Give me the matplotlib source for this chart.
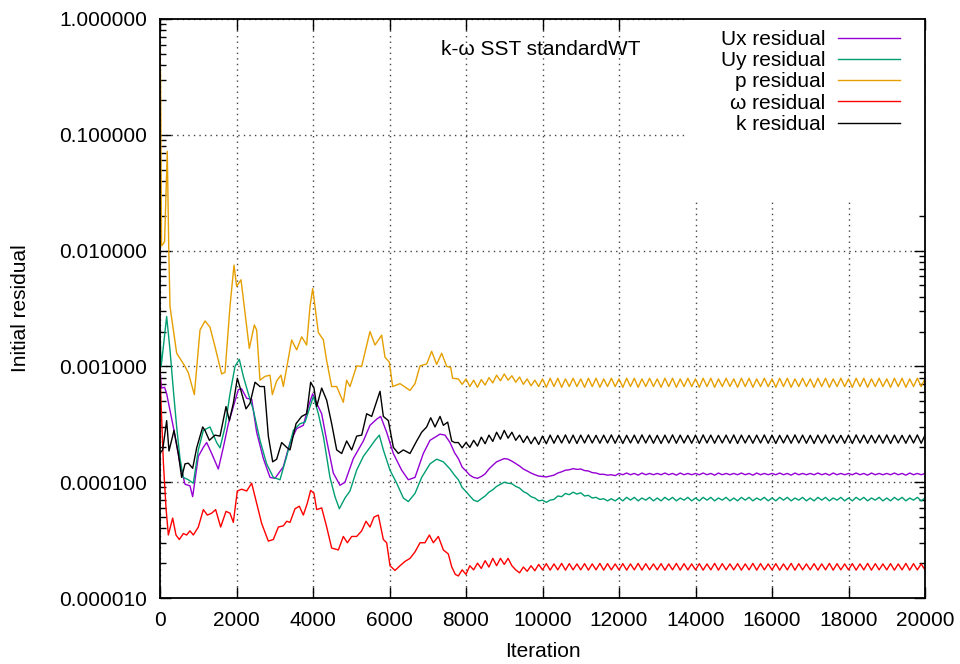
import numpy as np
import matplotlib
matplotlib.use('Agg')
import matplotlib.pyplot as plt
from matplotlib.patches import Rectangle
from matplotlib.ticker import LogLocator, FormatStrFormatter, NullFormatter

plt.rcParams['font.family'] = ['Liberation Sans', 'DejaVu Sans']

# ---- data: early part (irregular knots) ----
ux_it = [0, 20, 44, 120, 174, 348, 523, 654, 784, 854, 1002, 1133, 1220, 1351, 1525, 1656,
         1787, 1917, 2048, 2135, 2266, 2397, 2527, 2702, 2876, 3007, 3224, 3399, 3573, 3747,
         3878, 3992, 4096, 4227, 4357, 4531, 4706, 4836, 5054, 5316, 5490, 5664, 5769, 5926,
         6100, 6318, 6492, 6667, 6884, 7059, 7320, 7451, 7582, 7700]
ux_val = [1.0e-3, 7.5e-4, 6.5e-4, 6.6e-4, 5.8e-4, 3.0e-4, 1.44e-4, 9.6e-5, 9.3e-5, 7.5e-5,
          1.67e-4, 2.0e-4, 2.2e-4, 1.77e-4, 1.3e-4, 2.0e-4, 3.2e-4, 4.5e-4, 6.3e-4, 6.4e-4,
          5.3e-4, 5.2e-4, 2.7e-4, 1.6e-4, 1.1e-4, 1.08e-4, 1.36e-4, 2.2e-4, 2.9e-4, 3.1e-4,
          4.5e-4, 5.8e-4, 4.8e-4, 3.9e-4, 2.3e-4, 1.2e-4, 9.4e-5, 1.0e-4, 1.6e-4, 2.27e-4,
          3.1e-4, 3.5e-4, 3.7e-4, 2.7e-4, 1.77e-4, 1.27e-4, 1.05e-4, 1.1e-4, 1.77e-4, 2.3e-4,
          2.6e-4, 2.55e-4, 2.2e-4, 1.8e-4]

uy_it = [0, 30, 80, 174, 261, 348, 436, 523, 610, 741, 871, 1002, 1133, 1307, 1481, 1569,
         1700, 1830, 1961, 2074, 2179, 2310, 2440, 2614, 2788, 2963, 3137, 3311, 3486, 3660,
         3791, 3922, 4009, 4140, 4270, 4444, 4575, 4688, 4836, 4967, 5141, 5316, 5490, 5621,
         5734, 5839, 6013, 6188, 6362, 6492, 6667, 6841, 7059, 7233, 7407, 7582, 7700]
uy_val = [2.0e-3, 1.0e-3, 1.4e-3, 2.7e-3, 1.39e-3, 6.3e-4, 3.0e-4, 1.6e-4, 1.1e-4, 1.05e-4,
          9.8e-5, 1.9e-4, 2.8e-4, 3.0e-4, 2.2e-4, 1.98e-4, 3.0e-4, 5.8e-4, 1.0e-3, 1.15e-3,
          8.2e-4, 5.8e-4, 4.2e-4, 2.3e-4, 1.44e-4, 1.1e-4, 1.05e-4, 1.67e-4, 2.8e-4, 3.2e-4,
          3.3e-4, 4.5e-4, 5.5e-4, 3.9e-4, 2.5e-4, 1.1e-4, 7.5e-5, 5.9e-5, 7.3e-5, 8.4e-5,
          1.27e-4, 1.67e-4, 2.0e-4, 2.3e-4, 2.55e-4, 1.9e-4, 1.27e-4, 9.8e-5, 7.3e-5, 6.8e-5,
          8.0e-5, 1.1e-4, 1.44e-4, 1.58e-4, 1.5e-4, 1.3e-4, 1.15e-4]

p_it = [0, 15, 40, 90, 120, 190, 230, 261, 436, 654, 741, 898, 1046, 1176, 1307, 1438, 1612,
        1700, 1830, 1935, 2004, 2118, 2222, 2335, 2466, 2527, 2614, 2745, 2876, 2937, 3050,
        3163, 3224, 3442, 3573, 3704, 3834, 3922, 3992, 4140, 4270, 4357, 4488, 4619, 4793,
        4880, 4967, 5141, 5272, 5490, 5621, 5795, 5882, 5995, 6083, 6275, 6536, 6667, 6797,
        6972, 7102, 7233, 7364, 7495, 7600, 7650]
p_val = [0.6, 0.3, 0.011, 0.0115, 0.012, 0.072, 0.01, 0.0033, 0.0013, 0.001, 0.00088,
         0.00057, 0.00206, 0.00247, 0.00218, 0.00148, 0.00086, 0.00089, 0.0033, 0.0075, 0.0049,
         0.0056, 0.0029, 0.00143, 0.00228, 0.00206, 0.00076, 0.00082, 0.00084, 0.00057,
         0.00075, 0.00084, 0.00067, 0.00169, 0.00139, 0.0018, 0.00153, 0.0033, 0.0047,
         0.00196, 0.0017, 0.00112, 0.00067, 0.00067, 0.00049, 0.00076, 0.00067, 0.00101,
         0.001, 0.002, 0.00153, 0.00186, 0.0012, 0.00109, 0.00067, 0.00071, 0.00062, 0.00071,
         0.00101, 0.00105, 0.00135, 0.00104, 0.0013, 0.001, 0.00098, 0.00079]

w_it = [0, 26, 87, 157, 218, 331, 418, 505, 610, 697, 784, 871, 1002, 1133, 1238, 1351,
        1455, 1586, 1726, 1830, 1917, 2022, 2135, 2266, 2397, 2527, 2658, 2832, 2963, 3094,
        3225, 3312, 3399, 3530, 3643, 3747, 3852, 3939, 4026, 4096, 4227, 4358, 4488, 4663,
        4793, 4898, 5011, 5142, 5273, 5386, 5490, 5595, 5708, 5839, 5926, 6013, 6144, 6275,
        6406, 6536, 6667, 6798, 6928, 7042, 7146, 7277, 7408, 7538, 7626, 7720]
w_val = [1.0e-3, 5.0e-4, 1.5e-4, 6.0e-5, 3.5e-5, 4.9e-5, 3.5e-5, 3.2e-5, 3.6e-5, 3.5e-5,
         3.8e-5, 3.5e-5, 4.1e-5, 5.8e-5, 5.2e-5, 5.4e-5, 5.8e-5, 4.1e-5, 5.6e-5, 5.4e-5,
         4.5e-5, 8.4e-5, 8.7e-5, 8.4e-5, 9.8e-5, 6.6e-5, 4.4e-5, 3.1e-5, 3.2e-5, 4.1e-5,
         4.2e-5, 4.6e-5, 4.5e-5, 5.9e-5, 6.2e-5, 5.2e-5, 6.6e-5, 8.5e-5, 8.0e-5, 5.8e-5,
         6.0e-5, 4.1e-5, 2.7e-5, 2.6e-5, 3.4e-5, 3.0e-5, 3.4e-5, 3.4e-5, 3.8e-5, 4.6e-5,
         4.1e-5, 5.0e-5, 5.2e-5, 3.2e-5, 3.0e-5, 1.9e-5, 1.73e-5, 1.9e-5, 2.07e-5, 2.2e-5,
         2.5e-5, 3.0e-5, 3.0e-5, 3.5e-5, 3.0e-5, 3.4e-5, 2.6e-5, 2.4e-5, 1.86e-5, 1.6e-5]

k_it = [10, 70, 174, 235, 366, 479, 566, 654, 741, 854, 959, 1116, 1177, 1290, 1438, 1569,
        1726, 1813, 1917, 2022, 2109, 2248, 2353, 2484, 2614, 2728, 2832, 2946, 3050, 3181,
        3312, 3399, 3556, 3704, 3835, 3939, 4026, 4096, 4227, 4358, 4488, 4619, 4750, 4880,
        5011, 5142, 5273, 5403, 5534, 5647, 5752, 5839, 5970, 6101, 6231, 6362, 6536, 6711,
        6841, 6972, 7077, 7190, 7321, 7408, 7521, 7626, 7700]
k_val = [1.8e-4, 1.9e-4, 3.4e-4, 1.86e-4, 2.8e-4, 1.77e-4, 1.1e-4, 1.44e-4, 1.46e-4, 1.32e-4,
         1.98e-4, 3.0e-4, 2.8e-4, 2.3e-4, 2.55e-4, 2.5e-4, 4.5e-4, 3.4e-4, 4.8e-4, 7.9e-4,
         6.3e-4, 4.3e-4, 4.8e-4, 7.3e-4, 6.7e-4, 6.7e-4, 2.5e-4, 1.5e-4, 1.58e-4, 2.2e-4,
         2.0e-4, 1.9e-4, 3.2e-4, 3.7e-4, 3.9e-4, 7.3e-4, 6.5e-4, 4.5e-4, 6.5e-4, 5.1e-4,
         3.2e-4, 1.9e-4, 1.77e-4, 2.27e-4, 1.9e-4, 2.5e-4, 2.55e-4, 3.9e-4, 3.7e-4, 4.8e-4,
         6.1e-4, 3.7e-4, 3.4e-4, 2.0e-4, 1.77e-4, 1.9e-4, 1.77e-4, 2.27e-4, 2.7e-4, 3.0e-4,
         3.6e-4, 3.0e-4, 3.7e-4, 3.1e-4, 3.3e-4, 2.27e-4, 2.2e-4]

# ---- periodic tail, one value every 100 iterations from 7800 on ----
tail_start = 7800
tail_step = 100

ux_tail = [1.60, 1.35, 1.25, 1.15, 1.10, 1.08, 1.12, 1.18, 1.30, 1.40, 1.50,
           1.55, 1.60, 1.58, 1.52, 1.45, 1.38, 1.30, 1.25, 1.20, 1.16, 1.13,
           1.12, 1.11, 1.13, 1.15, 1.20, 1.23, 1.27, 1.28, 1.31, 1.29,
           1.30, 1.26, 1.25, 1.21, 1.20, 1.17, 1.17, 1.15, 1.16, 1.14,
           1.19, 1.16, 1.20, 1.16, 1.19, 1.15, 1.20, 1.16, 1.19, 1.16,
           1.19, 1.16, 1.20, 1.16, 1.19, 1.15, 1.20, 1.16, 1.19, 1.16,
           1.19, 1.16, 1.20, 1.16, 1.19, 1.15, 1.20, 1.16, 1.19, 1.16,
           1.19, 1.16, 1.20, 1.16, 1.19, 1.15, 1.20, 1.16, 1.19, 1.16,
           1.19, 1.16, 1.20, 1.16, 1.19, 1.15, 1.20, 1.16, 1.19, 1.16,
           1.19, 1.16, 1.20, 1.16, 1.19, 1.15, 1.20, 1.16, 1.19, 1.16,
           1.19, 1.16, 1.20, 1.16, 1.19, 1.15, 1.20, 1.16, 1.19, 1.16,
           1.19, 1.16, 1.20, 1.16, 1.19, 1.15, 1.20, 1.16, 1.19, 1.16,
           1.19]  # x 1e-4

uy_tail = [10.5, 9.0, 8.3, 7.6, 7.0, 6.8, 7.2, 7.6, 8.2, 8.6, 9.2,
           9.6, 10.0, 9.8, 9.7, 9.2, 8.9, 8.3, 8.0, 7.5, 7.3, 6.9,
           7.0, 6.7, 7.0, 7.1, 7.6, 7.5, 8.0, 7.8, 8.2, 7.9,
           8.1, 7.6, 7.7, 7.3, 7.4, 7.1, 7.2, 6.9, 7.2, 6.9,
           7.3, 6.9, 7.4, 7.0, 7.4, 6.9, 7.3, 7.0, 7.4, 6.9,
           7.3, 6.9, 7.4, 7.0, 7.4, 6.9, 7.3, 7.0, 7.4, 6.9,
           7.3, 6.9, 7.4, 7.0, 7.4, 6.9, 7.3, 7.0, 7.4, 6.9,
           7.3, 6.9, 7.4, 7.0, 7.4, 6.9, 7.3, 7.0, 7.4, 6.9,
           7.3, 6.9, 7.4, 7.0, 7.4, 6.9, 7.3, 7.0, 7.4, 6.9,
           7.3, 6.9, 7.4, 7.0, 7.4, 6.9, 7.3, 7.0, 7.4, 6.9,
           7.3, 6.9, 7.4, 7.0, 7.4, 6.9, 7.3, 7.0, 7.4, 6.9,
           7.3, 6.9, 7.4, 7.0, 7.4, 6.9, 7.3, 7.0, 7.4, 6.9,
           7.3]  # x 1e-5

p_tail = [7.8, 7.0, 7.8, 6.7, 7.6, 6.6, 7.7, 6.9, 8.0, 7.2, 8.4,
          7.5, 8.6, 7.6, 8.3, 7.3, 8.1, 7.0, 7.8, 6.8, 7.6, 6.7,
          7.8, 6.6, 7.9, 6.7, 7.9, 6.6, 7.8, 6.7, 7.9, 6.7,
          7.8, 6.6, 7.9, 6.7, 7.9, 6.6, 7.8, 6.7, 7.9, 6.7,
          7.8, 6.6, 7.9, 6.7, 7.9, 6.6, 7.8, 6.7, 7.9, 6.7,
          7.8, 6.6, 7.9, 6.7, 7.9, 6.6, 7.8, 6.7, 7.9, 6.7,
          7.8, 6.6, 7.9, 6.7, 7.9, 6.6, 7.8, 6.7, 7.9, 6.7,
          7.8, 6.6, 7.9, 6.7, 7.9, 6.6, 7.8, 6.7, 7.9, 6.7,
          7.8, 6.6, 7.9, 6.7, 7.9, 6.6, 7.8, 6.7, 7.9, 6.7,
          7.8, 6.6, 7.9, 6.7, 7.9, 6.6, 7.8, 6.7, 7.9, 6.7,
          7.8, 6.6, 7.9, 6.7, 7.9, 6.6, 7.8, 6.7, 7.9, 6.7,
          7.8, 6.6, 7.9, 6.7, 7.9, 6.6, 7.8, 6.7, 7.9, 6.7,
          7.8]  # x 1e-4

w_tail = [1.55, 1.75, 1.60, 1.90, 1.75, 2.00, 1.80, 2.10, 1.85, 2.20, 1.90,
          2.20, 1.95, 2.20, 1.90, 1.75, 1.65, 1.85, 1.70, 1.90, 1.72, 1.95,
          1.75, 1.98, 1.74, 1.97, 1.75, 1.99, 1.74, 1.98, 1.75, 1.97,
          1.75, 1.98, 1.74, 1.97, 1.75, 1.99, 1.74, 1.98, 1.75, 1.97,
          1.75, 1.98, 1.74, 1.97, 1.75, 1.99, 1.74, 1.98, 1.75, 1.97,
          1.75, 1.98, 1.74, 1.97, 1.75, 1.99, 1.74, 1.98, 1.75, 1.97,
          1.75, 1.98, 1.74, 1.97, 1.75, 1.99, 1.74, 1.98, 1.75, 1.97,
          1.75, 1.98, 1.74, 1.97, 1.75, 1.99, 1.74, 1.98, 1.75, 1.97,
          1.75, 1.98, 1.74, 1.97, 1.75, 1.99, 1.74, 1.98, 1.75, 1.97,
          1.75, 1.98, 1.74, 1.97, 1.75, 1.99, 1.74, 1.98, 1.75, 1.97,
          1.75, 1.98, 1.74, 1.97, 1.75, 1.99, 1.74, 1.98, 1.75, 1.97,
          1.75, 1.98, 1.74, 1.97, 1.75, 1.99, 1.74, 1.98, 1.75, 1.97,
          1.75]  # x 1e-5

k_tail = [2.20, 1.98, 2.20, 2.00, 2.30, 2.05, 2.45, 2.15, 2.55, 2.25, 2.70,
          2.35, 2.80, 2.40, 2.70, 2.30, 2.55, 2.20, 2.50, 2.15, 2.45, 2.12,
          2.50, 2.15, 2.55, 2.17, 2.54, 2.18, 2.56, 2.17, 2.55, 2.16,
          2.55, 2.18, 2.56, 2.18, 2.54, 2.17, 2.55, 2.18, 2.56, 2.17,
          2.55, 2.16, 2.54, 2.18, 2.55, 2.17, 2.56, 2.18, 2.55, 2.17,
          2.54, 2.16, 2.55, 2.18, 2.56, 2.17, 2.55, 2.18, 2.54, 2.17,
          2.55, 2.16, 2.56, 2.18, 2.55, 2.17, 2.54, 2.18, 2.55, 2.17,
          2.56, 2.16, 2.55, 2.18, 2.54, 2.17, 2.55, 2.18, 2.56, 2.17,
          2.55, 2.16, 2.54, 2.18, 2.55, 2.17, 2.56, 2.18, 2.55, 2.17,
          2.54, 2.16, 2.55, 2.18, 2.56, 2.17, 2.55, 2.18, 2.54, 2.17,
          2.55, 2.16, 2.56, 2.18, 2.55, 2.17, 2.54, 2.18, 2.55, 2.17,
          2.56, 2.16, 2.55, 2.18, 2.54, 2.17, 2.55, 2.18, 2.56, 2.17,
          2.55]  # x 1e-4


def series(it, val, tail, scale):
    t_it = tail_start + tail_step * np.arange(len(tail))
    x = np.concatenate([it, t_it])
    y = np.concatenate([val, np.array(tail) * scale])
    return x, y


fig = plt.figure(figsize=(9.6, 6.64), dpi=100)
ax = fig.add_axes([160 / 960, 1 - 598 / 664, 765 / 960, 579 / 664])

lines = []
for it, val, tail, scale, col, lab in [
        (ux_it, ux_val, ux_tail, 1e-4, '#9400d3', 'Ux residual'),
        (uy_it, uy_val, uy_tail, 1e-5, '#009e73', 'Uy residual'),
        (p_it, p_val, p_tail, 1e-4, '#e69f00', 'p residual'),
        (w_it, w_val, w_tail, 1e-5, '#ff0000', 'ω residual'),
        (k_it, k_val, k_tail, 1e-4, '#000000', 'k residual')]:
    x, y = series(it, val, tail, scale)
    ln, = ax.plot(x, y, color=col, lw=1.0, label=lab)
    lines.append(ln)

ax.set_yscale('log')
ax.set_ylim(1e-5, 1)
ax.set_xlim(0, 20000)
ax.set_xticks(range(0, 20001, 2000))
ax.yaxis.set_major_locator(LogLocator(base=10, numticks=10))
ax.yaxis.set_major_formatter(FormatStrFormatter('%f'))
ax.yaxis.set_minor_locator(LogLocator(base=10, subs=range(2, 10), numticks=20))
ax.yaxis.set_minor_formatter(NullFormatter())

ax.tick_params(which='both', direction='in', top=True, right=True, labelsize=15, width=1)
ax.tick_params(which='major', length=8, pad=9)
ax.tick_params(which='minor', length=4)
for s in ax.spines.values():
    s.set_linewidth(1.3)

ax.set_axisbelow(True)
ax.grid(True, which='major', linestyle=(0, (1, 3)), color='#444444', lw=1)

ax.set_xlabel('Iteration', fontsize=15, labelpad=9)
ax.set_ylabel('Initial residual', fontsize=15, labelpad=21)

ax.text(0.498, 0.948, 'k-ω SST standardWT', transform=ax.transAxes,
        ha='center', va='center', fontsize=15)

# opaque key area (hides the grid behind the key, as gnuplot does)
ax.add_patch(Rectangle((0.688, 0.687), 0.312, 0.313, transform=ax.transAxes,
                       facecolor='white', edgecolor='none', zorder=1.5))

leg = ax.legend(handles=lines, loc='upper right', bbox_to_anchor=(0.976, 0.992),
                markerfirst=False, fontsize=15, frameon=False,
                handlelength=3.0, handletextpad=0.6, labelspacing=0.11,
                borderpad=0.3, borderaxespad=0)
leg.set_zorder(5)

fig.savefig('out.png', dpi=100)
